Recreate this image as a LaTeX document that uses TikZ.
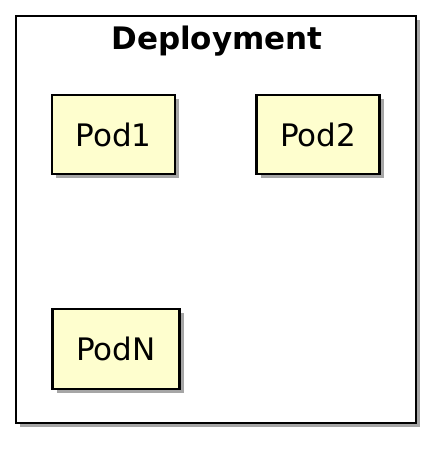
\documentclass[tikz,border=0pt]{standalone}
\usepackage{fontspec}
\setmainfont{DejaVu Sans}
\usetikzlibrary{shadows}
\definecolor{podfill}{HTML}{FEFECE}
\tikzset{
  x=1pt, y=-1pt,
  podbox/.style={draw=black, line width=2.5pt, fill=podfill, inner sep=0pt,
    minimum width=123pt, minimum height=79pt,
    font=\fontsize{31}{37}\selectfont,
    drop shadow={shadow xshift=4pt, shadow yshift=-4pt, fill=black, opacity=0.35}},
  framebox/.style={draw=black, line width=2.5pt, fill=white, inner sep=0pt,
    minimum width=400pt, minimum height=407pt,
    drop shadow={shadow xshift=4pt, shadow yshift=-4pt, fill=black, opacity=0.35}},
  titletext/.style={font=\bfseries\fontsize{31}{37}\selectfont, inner sep=0pt}
}
\begin{document}
\begin{tikzpicture}
\useasboundingbox (0,0) rectangle (441,449);
\node[framebox] (dep) at (216,219.5) {};
\node[titletext, anchor=base] (title) at (217,50) {Deployment};
\node[podbox] (pod1) at (113.5,134.5) {Pod1};
\node[podbox] (pod2) at (318,134.5) {Pod2};
\node[podbox, minimum width=127pt, minimum height=80pt] (podn) at (116,349) {PodN};
\end{tikzpicture}
\end{document}
